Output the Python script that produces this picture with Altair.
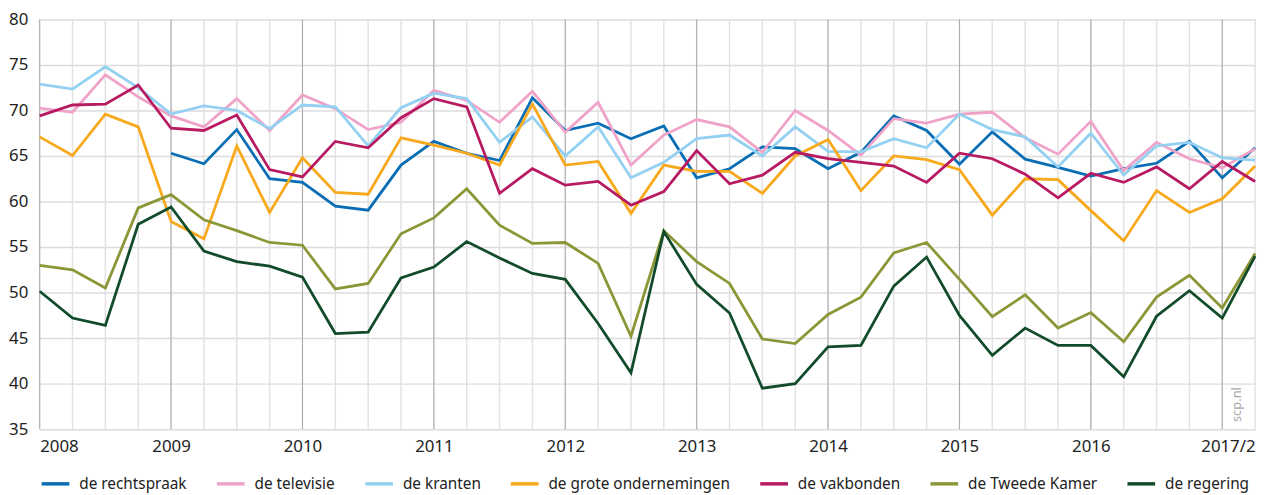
import altair as alt
import pandas as pd

# ---- data -------------------------------------------------------------
quarters = list(range(38))  # 2008 Q1 .. 2017 Q2
year_lines = [0, 4, 8, 12, 16, 20, 24, 28, 32, 36]
tick_pos = [0, 4, 8, 12, 16, 20, 24, 28, 32, 37]
tick_labels = ["2008", "2009", "2010", "2011", "2012", "2013", "2014", "2015", "2016", "2017/2"]
y_ticks = [35, 40, 45, 50, 55, 60, 65, 70, 75, 80]

series_names = ["de rechtspraak", "de televisie", "de kranten", "de grote ondernemingen",
                "de vakbonden", "de Tweede Kamer", "de regering"]
series_colors = ["#0a6eb4", "#f0a3c9", "#94d0f2", "#f7a81b", "#b81a62", "#8c9637", "#114b2a"]

rechtspraak = [None, None, None, None,
               65.3, 64.15, 67.9, 62.5, 62.1, 59.5, 59.05, 64.0, 66.6, 65.3, 64.5, 71.4, 67.8,
               68.6, 66.9, 68.3, 62.6, 63.6, 66.0, 65.8, 63.6, 65.4, 69.4, 67.8, 64.1, 67.65,
               64.65, 63.75, 62.8, 63.6, 64.2, 66.6, 62.6, 65.9]
televisie = [70.25, 69.8, 73.9, 71.5, 69.4, 68.2, 71.3, 67.8, 71.7, 70.2, 67.9, 68.7, 72.2,
             71.1, 68.7, 72.1, 67.6, 70.9, 64.0, 67.3, 69.0, 68.2, 65.4, 70.0, 67.8, 65.1,
             69.1, 68.6, 69.6, 69.8, 67.0, 65.2, 68.8, 63.4, 66.5, 64.7, 63.7, 65.8]
kranten = [72.9, 72.35, 74.8, 72.5, 69.6, 70.5, 70.0, 68.0, 70.6, 70.4, 66.1, 70.3, 71.9,
           71.3, 66.5, 69.3, 65.0, 68.2, 62.6, 64.3, 66.9, 67.3, 65.0, 68.2, 65.5, 65.45,
           66.9, 65.9, 69.6, 67.9, 67.1, 63.8, 67.5, 62.9, 66.1, 66.5, 64.8, 64.55]
grote_ondernemingen = [67.1, 65.05, 69.6, 68.2, 57.8, 55.9, 66.1, 58.8, 64.8, 61.0, 60.8, 67.0,
                       66.2, 65.3, 64.0, 70.7, 64.0, 64.4, 58.7, 64.0, 63.3, 63.3, 60.9, 65.0,
                       66.8, 61.2, 65.0, 64.6, 63.5, 58.5, 62.5, 62.4, 59.0, 55.7, 61.2, 58.8,
                       60.3, 63.9]
vakbonden = [69.4, 70.6, 70.7, 72.8, 68.05, 67.8, 69.5, 63.5, 62.7, 66.6, 65.9, 69.2, 71.3,
             70.4, 60.9, 63.6, 61.8, 62.2, 59.6, 61.1, 65.6, 61.95, 62.9, 65.4, 64.7, 64.3,
             63.9, 62.1, 65.3, 64.7, 63.0, 60.4, 63.1, 62.1, 63.8, 61.4, 64.4, 62.2]
tweede_kamer = [53.0, 52.5, 50.5, 59.3, 60.75, 58.0, 56.8, 55.5, 55.2, 50.4, 51.0, 56.45, 58.2,
                61.4, 57.4, 55.4, 55.5, 53.2, 45.2, 56.8, 53.4, 51.0, 44.9, 44.4, 47.6, 49.5,
                54.35, 55.5, 51.45, 47.35, 49.75, 46.1, 47.8, 44.6, 49.5, 51.9, 48.3, 54.3]
regering = [50.15, 47.2, 46.4, 57.5, 59.4, 54.55, 53.4, 52.9, 51.7, 45.5, 45.65, 51.6, 52.8,
            55.6, 53.8, 52.1, 51.45, 46.6, 41.2, 56.7, 50.9, 47.75, 39.5, 40.0, 44.05, 44.2,
            50.7, 53.9, 47.5, 43.1, 46.1, 44.2, 44.2, 40.75, 47.4, 50.2, 47.2, 54.0]

watermark_text = ["scp.nl"]
watermark_x = [36.45]
watermark_y = [37.7]

# ---- build tables -----------------------------------------------------
all_series = [rechtspraak, televisie, kranten, grote_ondernemingen, vakbonden, tweede_kamer, regering]
rows = []
for name, vals in zip(series_names, all_series):
    for q, v in zip(quarters, vals):
        if v is not None:
            rows.append({"q": q, "v": v, "s": name})
df = pd.DataFrame(rows)

quarter_df = pd.DataFrame({"q": quarters})
year_df = pd.DataFrame({"q": year_lines})
wm_df = pd.DataFrame({"q": watermark_x, "v": watermark_y, "t": watermark_text})

label_expr = ""
for p, l in zip(tick_pos, tick_labels):
    label_expr += f"datum.value == {p} ? '{l}' : "
label_expr += "''"

FONT = "Noto Sans"
x_scale = alt.Scale(domain=[0, 37], nice=False, zero=False)
y_scale = alt.Scale(domain=[35, 80], nice=False, zero=False)

x_axis = alt.Axis(values=tick_pos, labelExpr=label_expr, grid=False, ticks=False,
                  domain=False, labelFlush=True, labelFontSize=17, labelPadding=10,
                  labelColor="#222222", labelFont=FONT, title=None)
y_axis = alt.Axis(values=y_ticks, grid=True, gridColor="#dcdcdc", gridWidth=1.5,
                  ticks=False, domain=False, labelFontSize=17, labelPadding=12,
                  labelColor="#222222", labelFont=FONT, title=None)

quarter_rules = alt.Chart(quarter_df).mark_rule(color="#e2e2e2", strokeWidth=1.5).encode(
    x=alt.X("q:Q", scale=x_scale, axis=x_axis)
)
year_rules = alt.Chart(year_df).mark_rule(color="#ababab", strokeWidth=1).encode(
    x=alt.X("q:Q", scale=x_scale, axis=x_axis)
)

lines = alt.Chart(df).mark_line(strokeWidth=2.8).encode(
    x=alt.X("q:Q", scale=x_scale, axis=x_axis),
    y=alt.Y("v:Q", scale=y_scale, axis=y_axis),
    color=alt.Color("s:N", sort=series_names,
                    scale=alt.Scale(domain=series_names, range=series_colors),
                    legend=alt.Legend(title=None, orient="none", legendX=0, legendY=453,
                                      direction="horizontal", columns=7, symbolType="stroke",
                                      symbolSize=784, symbolStrokeWidth=3.5,
                                      labelFontSize=15.5, labelFont=FONT, labelColor="#222222",
                                      labelLimit=0, columnPadding=23, labelOffset=8)),
    detail="s:N",
)

watermark = alt.Chart(wm_df).mark_text(angle=270, fontSize=13, color="#aaaaaa", font=FONT,
                                       align="center", baseline="middle").encode(
    x=alt.X("q:Q", scale=x_scale, axis=x_axis),
    y=alt.Y("v:Q", scale=y_scale, axis=y_axis),
    text="t:N",
)

chart = alt.layer(quarter_rules, year_rules, lines, watermark).properties(
    width=1228, height=414,
    padding={"left": 0, "top": 0, "right": 5, "bottom": 0},
    background="white",
).configure_view(stroke=None)

chart.save("out.html", embed_options={"renderer": "svg", "actions": False})
